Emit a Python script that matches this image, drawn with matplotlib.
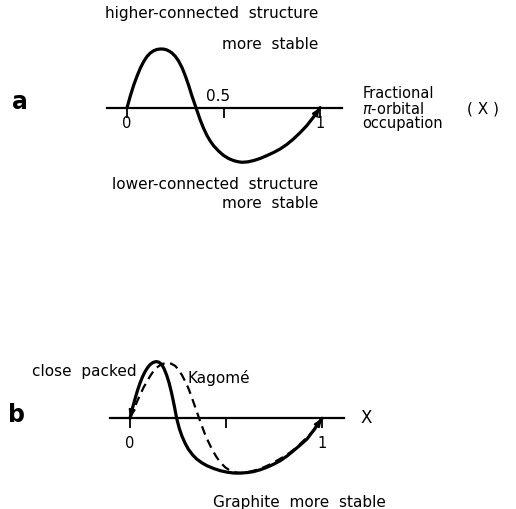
import numpy as np
import matplotlib
matplotlib.use("Agg")
import matplotlib.pyplot as plt

# panel a: single curve (x = fractional pi-orbital occupation, y = energy difference, peak = 1)
xa = [0.0, 0.017, 0.034, 0.052, 0.069, 0.086, 0.103, 0.12, 0.138, 0.155, 0.172, 0.19, 0.205, 0.22, 0.233, 0.25,
      0.267, 0.285, 0.302, 0.319, 0.336, 0.357, 0.379, 0.396, 0.414, 0.431, 0.448, 0.474, 0.5, 0.526,
      0.552, 0.574, 0.595, 0.625, 0.655, 0.69, 0.724, 0.759, 0.793, 0.828, 0.862, 0.897, 0.931, 0.966, 1.0]
ya = [0.0, 0.2, 0.38, 0.54, 0.675, 0.785, 0.87, 0.93, 0.97, 0.992, 1.0, 0.998, 0.985, 0.96, 0.93, 0.875,
      0.795, 0.68, 0.54, 0.38, 0.2, 0.0, -0.21, -0.35, -0.475, -0.57, -0.648, -0.74, -0.815, -0.868,
      -0.903, -0.922, -0.932, -0.925, -0.903, -0.866, -0.818, -0.765, -0.705, -0.627, -0.534, -0.425, -0.307, -0.16, 0.0]

# panel b: close packed (solid) and Kagome (dashed)
xb_cp = [0.0, 0.013, 0.026, 0.039, 0.052, 0.065, 0.078, 0.091, 0.104, 0.12, 0.136, 0.15, 0.165, 0.178, 0.191, 0.204,
         0.217, 0.23, 0.243, 0.256, 0.27, 0.287, 0.304, 0.326, 0.348, 0.374, 0.4, 0.435, 0.47, 0.505, 0.539,
         0.561, 0.583, 0.613, 0.643, 0.678, 0.713, 0.748, 0.783, 0.818, 0.852, 0.887, 0.922, 0.961, 1.0]
yb_cp = [0.0, 0.18, 0.34, 0.49, 0.62, 0.73, 0.82, 0.89, 0.945, 0.985, 1.0, 0.99, 0.95, 0.87, 0.76, 0.62,
         0.44, 0.23, 0.0, -0.17, -0.31, -0.44, -0.545, -0.645, -0.72, -0.785, -0.835, -0.885, -0.924, -0.95, -0.965,
         -0.968, -0.965, -0.956, -0.941, -0.908, -0.865, -0.81, -0.747, -0.665, -0.571, -0.47, -0.365, -0.19, 0.0]

xb_kg = [0.0, 0.035, 0.07, 0.104, 0.122, 0.139, 0.165, 0.191, 0.213, 0.235, 0.252, 0.27, 0.287, 0.304, 0.319,
         0.334, 0.347, 0.36, 0.376, 0.391, 0.409, 0.426, 0.448, 0.47, 0.496, 0.522, 0.548, 0.574, 0.6,
         0.626, 0.661, 0.696, 0.73, 0.765, 0.8, 0.835, 0.87, 0.904, 0.93, 0.957, 0.979, 1.0]
yb_kg = [0.0, 0.282, 0.54, 0.74, 0.83, 0.895, 0.955, 0.976, 0.965, 0.925, 0.86, 0.765, 0.655, 0.53, 0.395,
         0.25, 0.125, 0.0, -0.15, -0.285, -0.42, -0.54, -0.67, -0.776, -0.865, -0.924, -0.952, -0.965, -0.958,
         -0.941, -0.908, -0.865, -0.812, -0.747, -0.678, -0.6, -0.505, -0.394, -0.31, -0.218, -0.11, 0.0]

ticks = [0, 0.5, 1]
ticklabels = ["0", "", "1"]

plt.rcParams["font.family"] = ["DejaVu Sans"]
fig = plt.figure(figsize=(5.16, 5.10), dpi=100)

axa = fig.add_axes([0.134, 0.557, 0.636, 0.437])
axb = fig.add_axes([0.1403, -0.0445, 0.6326, 0.4225])

def setup(ax, lo, hi, pad):
    ax.set_xlim(-0.3, 1.4)
    ax.set_ylim(-2.0, 1.8)
    for s in ["top", "right", "left"]:
        ax.spines[s].set_visible(False)
    ax.spines["bottom"].set_position(("data", 0))
    ax.spines["bottom"].set_bounds(lo, hi)
    ax.spines["bottom"].set_linewidth(1.6)
    ax.set_yticks([])
    ax.set_xticks(ticks)
    ax.set_xticklabels(ticklabels)
    ax.tick_params(axis="x", direction="out", length=7, width=1.3, pad=pad, labelsize=10.5)
    ax.patch.set_visible(False)

def tip(ax, x, y, i, j, lw):
    # small arrowhead at the end of a curve
    ax.annotate("", xy=(x[i], y[i]), xytext=(x[j], y[j]),
                arrowprops=dict(arrowstyle="-|>,head_length=0.45,head_width=0.18",
                                color="black", lw=lw, shrinkA=0, shrinkB=0))

setup(axa, -0.104, 1.114, -1.5)
setup(axb, -0.104, 1.115, 5)

axa.plot(xa, ya, color="black", lw=2.3, solid_capstyle="round", solid_joinstyle="round")
tip(axa, xa, ya, -1, -2, 1.5)

axb.plot(xb_cp, yb_cp, color="black", lw=2.3, solid_capstyle="round", solid_joinstyle="round")
axb.plot(xb_kg, yb_kg, color="black", lw=1.6, ls=(0, (4, 2.5)))
tip(axb, xb_cp, yb_cp, 0, 1, 1.5)
tip(axb, xb_cp, yb_cp, -1, -2, 1.5)

fs = 11
axa.text(0.99, 1.63, "higher-connected  structure", ha="right", va="center", fontsize=fs)
axa.text(0.99, 1.10, "more  stable", ha="right", va="center", fontsize=fs)
axa.text(0.47, 0.2, "0.5", ha="center", va="center", fontsize=fs)
axa.text(0.99, -1.30, "lower-connected  structure", ha="right", va="center", fontsize=fs)
axa.text(0.99, -1.61, "more  stable", ha="right", va="center", fontsize=fs)
axa.text(1.218, 0.0, "Fractional\n$\\pi$-orbital\noccupation", ha="left", va="center",
         fontsize=10.5, linespacing=0.95)
axa.text(1.76, 0.0, "( X )", ha="left", va="center", fontsize=fs)
axa.text(-0.554, 0.11, "a", ha="center", va="center", fontsize=17, fontweight="bold")

axb.text(0.036, 0.85, "close  packed", ha="right", va="center", fontsize=fs)
axb.text(0.30, 0.73, "Kagomé", ha="left", va="center", fontsize=fs)
axb.text(1.20, 0.02, "X", ha="left", va="center", fontsize=fs + 1)
axb.text(0.43, -1.46, "Graphite  more  stable", ha="left", va="center", fontsize=fs)
axb.text(-0.59, 0.08, "b", ha="center", va="center", fontsize=17, fontweight="bold")

fig.savefig("out.png", dpi=100)
